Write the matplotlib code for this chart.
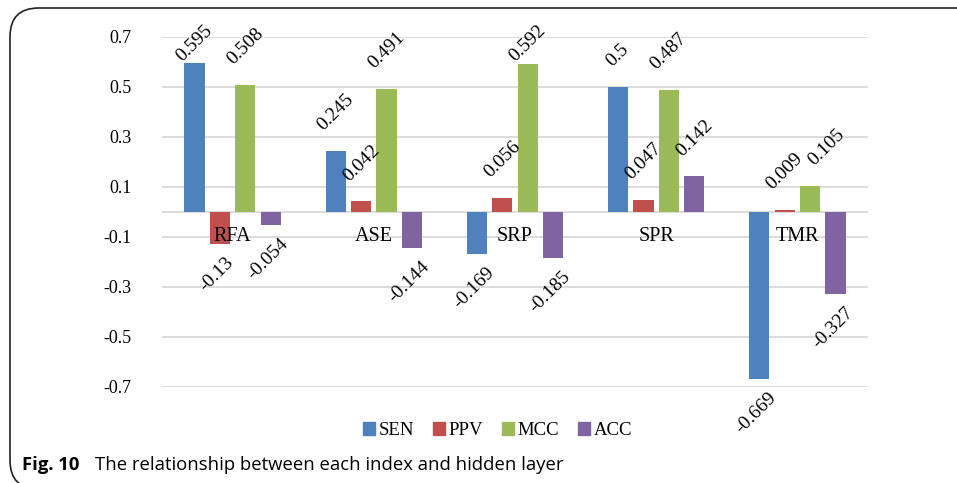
#!/usr/bin/env python3
import matplotlib
matplotlib.use("Agg")
import matplotlib.pyplot as plt
from matplotlib.patches import FancyBboxPatch, Patch

CATEGORIES = ["RFA", "ASE", "SRP", "SPR", "TMR"]
SEN = [0.595, 0.245, -0.169, 0.5, -0.669]
PPV = [-0.13, 0.042, 0.056, 0.047, 0.009]
MCC = [0.508, 0.491, 0.592, 0.487, 0.105]
ACC = [-0.054, -0.144, -0.185, 0.142, -0.327]
SERIES_NAMES = ["SEN", "PPV", "MCC", "ACC"]
Y_TICKS = [-0.7, -0.5, -0.3, -0.1, 0.1, 0.3, 0.5, 0.7]

COLORS = ["#4F81BD", "#C0504D", "#9BBB59", "#8064A2"]
SERIF = "Liberation Serif"
GRID = "#D9D9D9"

# label gaps in pixels (dpi 100)
POS_GAP = 17
NEG_GAP = 10
TOP_LIMIT = 22
# hand-moved labels: (series, category index) -> pixel shift
NUDGE = {("MCC", 4): (16, 0)}


def draw_chart(fig):
    ax = fig.add_axes([0.1693, 0.1988, 0.7377, 0.7246])
    series = [SEN, PPV, MCC, ACC]
    offsets = [-0.27, -0.09, 0.09, 0.27]
    width = 0.142
    labels = []

    for name, values, off, color in zip(SERIES_NAMES, series, offsets, COLORS):
        xs = [i + off for i in range(len(CATEGORIES))]
        ax.bar(xs, values, width=width, color=color, zorder=3)
        for i, (x, v) in enumerate(zip(xs, values)):
            nx, ny = NUDGE.get((name, i), (0, 0))
            if v >= 0:
                t = ax.annotate(f"{v:g}", xy=(x, v), xytext=(nx, POS_GAP + ny),
                                textcoords="offset pixels", rotation=45,
                                ha="center", va="bottom", fontsize=14,
                                family=SERIF, zorder=6)
            else:
                t = ax.annotate(f"{v:g}", xy=(x, v), xytext=(nx - 3, ny - NEG_GAP),
                                textcoords="offset pixels", rotation=45,
                                ha="center", va="top", fontsize=14,
                                family=SERIF, zorder=6)
            labels.append((t, v))

    for i, name in enumerate(CATEGORIES):
        ax.text(i, -0.1, name, ha="center", va="center", family=SERIF,
                fontsize=14.5, zorder=5)

    ax.set_xlim(-0.5, len(CATEGORIES) - 0.5)
    ax.set_ylim(-0.7, 0.7)
    ax.set_yticks(Y_TICKS)
    ax.set_yticklabels([f"{t:g}" for t in Y_TICKS], family=SERIF, fontsize=13)
    ax.set_xticks([])
    ax.tick_params(axis="y", length=0, pad=22)
    ax.yaxis.grid(True, color=GRID, linewidth=1.3, zorder=0)
    ax.set_axisbelow(True)
    ax.axhline(0, color=GRID, linewidth=1.3, zorder=1)
    for side in ax.spines:
        ax.spines[side].set_visible(False)

    handles = [Patch(color=c, label=n) for c, n in zip(COLORS, SERIES_NAMES)]
    fig.legend(handles=handles, loc="center", bbox_to_anchor=(0.52, 0.108),
               ncol=4, frameon=False, handlelength=0.65, handleheight=0.65,
               handletextpad=0.2, columnspacing=1.0,
               prop={"family": SERIF, "size": 13.5})
    return labels


def keep_inside(fig, labels):
    # push tall positive labels down so they stay inside the chart area
    fig.canvas.draw()
    renderer = fig.canvas.get_renderer()
    limit = fig.bbox.height - TOP_LIMIT
    for t, v in labels:
        if v < 0:
            continue
        box = t.get_window_extent(renderer)
        if box.y1 > limit:
            dx, dy = t.xyann
            t.xyann = (dx, dy - (box.y1 - limit))


def draw_frame(fig):
    frame = FancyBboxPatch((10 / 957, -6 / 483), 1.05, 1 - 2 / 483,
                           boxstyle="round,pad=0,rounding_size=0.03",
                           transform=fig.transFigure, fill=False,
                           edgecolor="#222222", linewidth=1.2,
                           mutation_aspect=957 / 483, clip_on=False)
    fig.patches.append(frame)
    fig.text(22 / 957, 0.037, "Fig. 10", family="Open Sans", weight="bold",
             fontsize=13.3, va="center", ha="left")
    fig.text(95 / 957, 0.037, "The relationship between each index and hidden layer",
             family="Open Sans", fontsize=13.3, va="center", ha="left")


def main():
    fig = plt.figure(figsize=(9.57, 4.83), dpi=100)
    labels = draw_chart(fig)
    draw_frame(fig)
    keep_inside(fig, labels)
    fig.savefig("out.png", dpi=100)


if __name__ == "__main__":
    main()
